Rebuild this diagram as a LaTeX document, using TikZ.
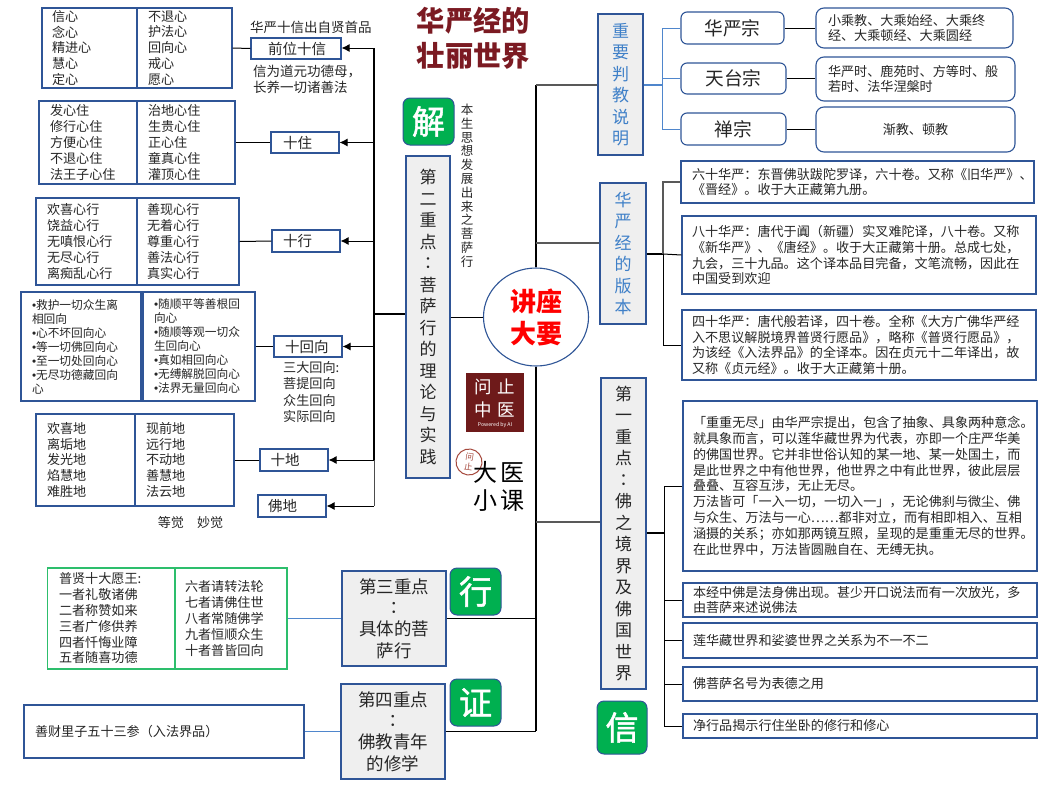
\documentclass[tikz,border=0pt]{standalone}
\usepackage{fontspec}
\setmainfont{Noto Sans CJK SC}
\newfontfamily\tcfont{Noto Sans CJK TC}
\newfontfamily\bufont{Liberation Sans}
\newfontfamily\badgefont[FakeBold=1.6]{Noto Sans CJK SC}
\usetikzlibrary{arrows.meta,shapes.geometric}
\definecolor{bl}{HTML}{2F5597}
\definecolor{gfill}{HTML}{EFEFEF}
\definecolor{txtblue}{HTML}{3F80C8}
\definecolor{lineblue}{HTML}{4F86CC}
\definecolor{badgegreen}{HTML}{00B050}
\definecolor{boxgreen}{HTML}{2DBE6C}
\definecolor{titlered}{HTML}{7B1A22}
\definecolor{sealred}{HTML}{6E1A1A}
\definecolor{ringred}{HTML}{A5483C}
\definecolor{txt}{HTML}{262626}
\newcommand{\fsz}[2]{\fontsize{#1}{#2}\selectfont\lineskiplimit=-20pt\relax}
\newcommand{\ccol}{{\tcfont ：}}
\newcommand{\bul}{{\bufont •}}
% style, name, x1, y1, x2, y2, padding, text
\newcommand{\bx}[8]{%
  \pgfmathsetmacro{\bxw}{#5-#3}\pgfmathsetmacro{\bxh}{#6-#4}\pgfmathsetmacro{\bxt}{#5-#3-2*#7}%
  \node[#1,minimum width=\bxw pt,minimum height=\bxh pt,text width=\bxt pt,inner xsep=#7pt,inner ysep=0pt] (#2) at ({(#3+#5)/2},{(#4+#6)/2}) {#8};}
\tikzset{
  plain/.style={draw=bl,line width=1.1pt,fill=white,text=txt,align=left,font=\fsz{13.1}{15.8}},
  small/.style={plain,font=\fsz{11.7}{14}},
  wide/.style={plain,font=\fsz{13.1}{15.9}},
  grn/.style={plain,draw=boxgreen},
  label/.style={plain,align=left,font=\fsz{14.5}{17}},
  keyv/.style={plain,fill=gfill,align=center,font=\fsz{17}{21.5}},
  keyb/.style={keyv,text=txtblue},
  keyh/.style={plain,fill=gfill,align=center,font=\fsz{17.5}{21.3}},
  zong/.style={plain,rounded corners=6pt,align=center,font=\fsz{18.7}{22}},
  zongr/.style={plain,rounded corners=8pt},
  badge/.style={draw=bl,line width=1pt,fill=badgegreen,rounded corners=7pt,text=white,align=center,font=\fsz{33}{36}\badgefont},
  free/.style={text=txt,align=left,inner sep=0pt,font=\fsz{13.1}{16}},
  conn/.style={black,line width=1pt},
  grayconn/.style={black!65,line width=1.1pt},
  blueconn/.style={lineblue,line width=1pt},
  arr/.style={black,line width=1pt,-{Latex[length=8pt,width=8pt]}},
}
\begin{document}
\begin{tikzpicture}[x=1pt,y=-1pt]
\useasboundingbox (0,0) rectangle (1053,785);
\fill[white] (0,0) rectangle (1053,785);
% title
\node[inner sep=0pt,align=center,text=titlered,font=\fsz{28.3}{35}\bfseries] (title) at (473.5,38) {华严经的\\壮丽世界};
% ten faith
\bx{plain}{xa}{42}{8}{137}{88}{10}{信心\\念心\\精进心\\慧心\\定心}
\bx{plain}{xb}{137}{8}{232}{88}{11}{不退心\\护法心\\回向心\\戒心\\愿心}
\bx{plain}{za}{39}{101}{137}{184}{11}{发心住\\修行心住\\方便心住\\不退心住\\法王子心住}
\bx{plain}{zb}{137}{101}{235}{184}{11}{治地心住\\生贵心住\\正心住\\童真心住\\灌顶心住}
\bx{plain}{ha}{36}{198}{137}{285}{11}{欢喜心行\\饶益心行\\无嗔恨心行\\无尽心行\\离痴乱心行}
\bx{plain}{hb}{137}{198}{239}{285}{10}{善现心行\\无着心行\\尊重心行\\善法心行\\真实心行}
\bx{small}{ra}{21}{292}{141}{401}{11}{\bul 救护一切众生离\\相回向\\\bul 心不坏回向心\\\bul 等一切佛回向心\\\bul 至一切处回向心\\\bul 无尽功德藏回向\\心}
\bx{small}{rb}{143}{292}{255}{401}{11}{\bul 随顺平等善根回\\向心\\\bul 随顺等观一切众\\生回向心\\\bul 真如相回向心\\\bul 无缚解脱回向心\\\bul 法界无量回向心}
\bx{plain}{da}{36}{414}{135}{506}{11}{欢喜地\\离垢地\\发光地\\焰慧地\\难胜地}
\bx{plain}{db}{135}{414}{234}{506}{11}{现前地\\远行地\\不动地\\善慧地\\法云地}
\node[free] (deng) at (190.5,523) {等觉\hspace{1.0em}妙觉};
% labels
\bx{label}{lx}{251}{38}{341}{59}{17}{前位十信}
\bx{label}{lz}{271}{132}{339}{153}{12}{十住}
\bx{label}{lh}{272}{230}{340}{252}{11}{十行}
\bx{label}{lr}{274}{336}{342}{357}{11}{十回向}
\bx{label}{ld}{260}{449}{328}{471}{10.5}{十地}
\bx{label}{lf}{258}{495}{326}{517}{10}{佛地}
\node[free,anchor=west,font=\fsz{13.5}{16}] (xtop) at (250,27) {华严十信出自贤首品};
\node[free,anchor=north west,font=\fsz{13.5}{16}] (xbot) at (253,65) {信为道元功德母，\\长养一切诸善法};
\node[free,anchor=north west,font=\fsz{13.1}{16.4}] (sanda) at (283,361) {三大回向:\\菩提回向\\众生回向\\实际回向};
% second key
\bx{keyv}{k2}{406}{156}{450}{478}{0}{第\\二\\重\\点\\\ccol\\菩\\萨\\行\\的\\理\\论\\与\\实\\践}
\bx{badge}{bjie}{403}{98}{454}{145}{0}{解}
\foreach \c [count=\i] in {本,生,思,想,发,展,出,来,之,菩,萨,行}
  \node[free,anchor=base,font=\fsz{12.5}{13}] (vert\i) at (467,{110+4.5+(\i-1)*13.8}) {\c};
% centre
\node[draw=bl,line width=1.1pt,fill=white,ellipse,minimum width=105pt,minimum height=98pt,inner sep=0pt,align=center,text=red,font=\fsz{26}{32}\bfseries] (hub) at (536,317) {讲座\\大要};
% seal
\node[fill=sealred,minimum width=58pt,minimum height=59pt,inner sep=0pt] (seal) at (495,402.5) {};
\node[inner sep=0pt,align=center,text=white,font=\fsz{17.5}{23}] (sealtxt) at (495,398) {问\hspace{6pt}止\\中\hspace{6pt}医};
\node[inner sep=0pt,text=white,font=\fsz{5.2}{6}] (powered) at (495,425) {Powered by AI};
\node[draw=ringred,line width=1pt,circle,minimum size=26pt,inner sep=0pt,align=center,text=ringred,font=\fsz{8.5}{10},rotate=-8] (ring) at (469,462) {问\\止};
\node[inner sep=0pt,align=center,text=black,font=\fsz{24}{28}] (dayi) at (499,486) {大\hspace{4pt}医\\小\hspace{4pt}课};
% third and fourth keys
\bx{grn}{ga}{47.5}{568}{175}{669}{11.5}{普贤十大愿王:\\一者礼敬诸佛\\二者称赞如来\\三者广修供养\\四者忏悔业障\\五者随喜功德}
\bx{grn}{gb}{175}{568}{287}{669}{10}{六者请转法轮\\七者请佛住世\\八者常随佛学\\九者恒顺众生\\十者普皆回向}
\bx{keyh}{k3}{342}{571}{446}{666}{2}{第三重点\\\ccol\\具体的菩\\萨行}
\bx{keyh}{k4}{341}{684}{445}{779}{2}{第四重点\\\ccol\\佛教青年\\的修学}
\bx{badge}{bxing}{450}{568}{501}{615}{0}{行}
\bx{badge}{bzheng}{450}{679}{501}{726}{0}{证}
\bx{plain}{shancai}{24}{705}{304}{758}{11}{善财里子五十三参（入法界品）}
% right keys
\bx{keyb}{kz}{598}{14}{643}{155}{0}{重\\要\\判\\教\\说\\明}
\bx{keyb}{kb}{600}{183}{646}{324}{0}{华\\严\\经\\的\\版\\本}
\bx{keyv}{k1}{601}{378}{646}{689}{0}{第\\一\\重\\点\\\ccol\\佛\\之\\境\\界\\及\\佛\\国\\世\\界}
\bx{badge}{bxin}{597}{701}{647}{754}{0}{信}
% schools
\bx{zong}{zh}{681}{12}{784}{44}{2}{华严宗}
\bx{zong}{zt}{681}{63}{786}{94}{2}{天台宗}
\bx{zong}{zc}{681}{113}{786}{145}{2}{禅宗}
\bx{zongr}{zh2}{816}{8}{1013}{48}{12}{小乘教、大乘始经、大乘终\\经、大乘顿经、大乘圆经}
\bx{zongr}{zt2}{816}{57}{1015}{101}{12}{华严时、鹿苑时、方等时、般\\若时、法华涅槃时}
\bx{zongr,align=center}{zc2}{816}{107}{1015}{152}{12}{渐教、顿教}
% versions
\bx{wide}{v6}{681}{161}{1034}{203}{11}{六十华严：东晋佛驮跋陀罗译，六十卷。又称《旧华严》、\\《晋经》。收于大正藏第九册。}
\bx{wide}{v8}{682}{216}{1036}{294}{10}{八十华严：唐代于阗（新疆）实叉难陀译，八十卷。又称\\《新华严》、《唐经》。收于大正藏第十册。总成七处，\\九会，三十九品。这个译本品目完备，文笔流畅，因此在\\中国受到欢迎}
\bx{wide}{v4}{682}{310}{1036}{380}{10}{四十华严：唐代般若译，四十卷。全称《大方广佛华严经\\入不思议解脱境界普贤行愿品》，略称《普贤行愿品》，\\为该经《入法界品》的全译本。因在贞元十二年译出，故\\又称《贞元经》。收于大正藏第十册。}
% world
\bx{wide}{w0}{683}{401}{1037}{571}{10}{「重重无尽」由华严宗提出，包含了抽象、具象两种意念。\\就具象而言，可以莲华藏世界为代表，亦即一个庄严华美\\的佛国世界。它并非世俗认知的某一地、某一处国土，而\\是此世界之中有他世界，他世界之中有此世界，彼此层层\\叠叠、互容互涉，无止无尽。\\万法皆可「一入一切，一切入一」，无论佛刹与微尘、佛\\与众生、万法与一心……都非对立，而有相即相入、互相\\涵摄的关系；亦如那两镜互照，呈现的是重重无尽的世界。\\在此世界中，万法皆圆融自在、无缚无执。}
\bx{wide}{w1}{683}{583}{1037}{617}{10}{本经中佛是法身佛出现。甚少开口说法而有一次放光，多\\由菩萨来述说佛法}
\bx{wide}{w2}{683}{623}{1037}{658}{10}{莲华藏世界和娑婆世界之关系为不一不二}
\bx{wide}{w3}{683}{667}{1037}{701}{10}{佛菩萨名号为表德之用}
\bx{wide}{w4}{683}{714}{1037}{738}{10}{净行品揭示行住坐卧的修行和修心}
% left trunk
\coordinate (lt) at (374,48);
\coordinate (lb) at (374,506);
\coordinate (lm) at (374,314);
\draw[conn,line width=1.4pt] (lt) -- (ld.east-|lt);
\draw[conn,black!70] (ld.east-|lt) -- (lb);
\draw[conn,line width=1.4pt] (lm) -- (k2.west|-lm);
\draw[arr] (lt) -- (lx.east|-lt);
\draw[arr] (lz.east-|lt) -- (lz.east);
\draw[arr] (lh.east-|lt) -- (lh.east);
\draw[arr] (lr.east-|lt) -- (lr.east);
\draw[arr] (ld.east-|lt) -- (ld.east);
\draw[arr] (lb) -- (lf.east);
\draw[conn] (xb.east) -- (lx.west);
\draw[conn] (zb.east) -- (lz.west);
\draw[conn] (hb.east) -- (lh.west);
\draw[conn] (rb.east) -- (lr.west);
\draw[conn] (db.east) -- (ld.west);
\draw[conn] (k2.east|-hub) -- (hub.west);
% main trunk
\coordinate (mt) at (536,85);
\coordinate (mb) at (536,731);
\coordinate (b3) at (536,618);
\coordinate (bv) at (536,243);
\coordinate (bw) at (536,522);
\draw[conn,line width=1.1pt] (mt) -- (hub.north);
\draw[conn,line width=1.1pt] (hub.south) -- (mb);
\draw[grayconn] (mt) -- (kz.west|-mt);
\draw[grayconn] (bv) -- (kb.west|-bv);
\draw[grayconn] (bw) -- (k1.west|-bw);
\draw[conn] (k3.east|-b3) -- (b3);
\draw[conn] (k4.east|-mb) -- (mb);
\draw[blueconn] (gb.east|-b3) -- (k3.west|-b3);
\draw[blueconn] (shancai.east) -- (k4.west|-shancai);
% bracket: schools
\coordinate (s0) at (662,85);
\draw[blueconn,line width=1.3pt] (kz.east|-s0) -- (s0);
\draw[blueconn] (zh.west) -| (s0);
\draw[blueconn] (zt.west) -| (s0);
\draw[blueconn] (zc.west) -| (s0);
\draw[conn] (zh.east) -- (zh2.west|-zh);
\draw[conn,line width=1.6pt] (zt.east) -- (zt2.west|-zt);
\draw[conn] (zc.east) -- (zc2.west|-zc);
% bracket: versions
\coordinate (v0) at (663,254);
\draw[conn,line width=1.3pt] (kb.east|-v0) -- (v0);
\draw[grayconn] (v0) |- (v6.west);
\draw[conn] (v0) -- (v8.west);
\draw[conn] (v0) |- (v4.west);
% bracket: world
\coordinate (w00) at (664,533);
\draw[conn,line width=1.2pt] (k1.east|-w00) -- (w00);
\draw[conn] (w00) |- (w0.west);
\draw[conn] (w00) |- (w1.west);
\draw[conn] (w00) |- (w2.west);
\draw[conn] (w00) |- (w3.west);
\draw[conn] (w00) |- (w4.west);
\end{tikzpicture}
\end{document}
